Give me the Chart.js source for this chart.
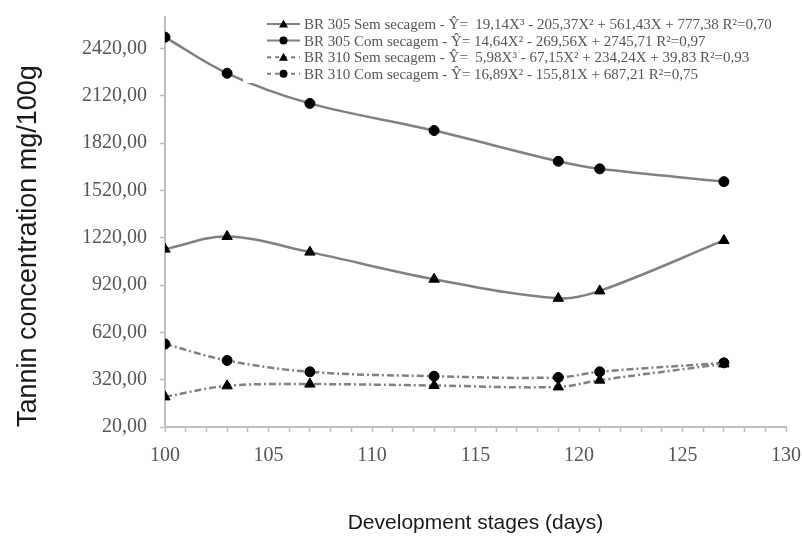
<!DOCTYPE html>
<html>
<head>
<meta charset="utf-8">
<script src="https://cdn.jsdelivr.net/npm/chart.js@4/dist/chart.umd.min.js"></script>
<style>
  html, body { margin: 0; padding: 0; background: #fff; }
  #wrap { width: 802px; height: 542px; position: relative; }
</style>
</head>
<body>
<div id="wrap"><canvas id="c"></canvas></div>
<script>
// ---- data ----
const days = [100, 103, 107, 113, 119, 121, 127];
const br305Sem = [1148, 1228, 1129, 957, 836, 883, 1203];
const br305Com = [2492, 2263, 2072, 1900, 1705, 1657, 1576];
const br310Sem = [211, 281, 292, 283, 274, 317, 420];
const br310Com = [546, 442, 370, 342, 334, 370, 427];

const seriesNames = [
  'BR 305 Sem secagem - \u0176=  19,14X\u00B3 - 205,37X\u00B2 + 561,43X + 777,38 R\u00B2=0,70',
  'BR 305 Com secagem - \u0176= 14,64X\u00B2 - 269,56X + 2745,71 R\u00B2=0,97',
  'BR 310 Sem secagem - \u0176=  5,98X\u00B3 - 67,15X\u00B2 + 234,24X + 39,83 R\u00B2=0,93',
  'BR 310 Com secagem - \u0176= 16,89X\u00B2 - 155,81X + 687,21 R\u00B2=0,75'
];
const xTickValues = [100, 105, 110, 115, 120, 125, 130];
const yTickValues = [20, 320, 620, 920, 1220, 1520, 1820, 2120, 2420];
const xTitle = 'Development stages (days)';
const yTitle = 'Tannin concentration mg/100g';

const toPts = (arr) => arr.map((v, i) => ({ x: days[i], y: v }));

const LINE = '#808080';
const dashDot = [7, 3, 2, 3];

function mkSeries(label, values, style, dashed) {
  return {
    label,
    data: toPts(values),
    borderColor: LINE,
    borderWidth: 2.5,
    borderDash: dashed ? dashDot : [],
    pointStyle: style,
    pointRadius: style === 'triangle' ? 6 : 5,
    pointBackgroundColor: '#000',
    pointBorderColor: '#000',
    pointBorderWidth: 1,
    tension: 0.35,
    fill: false
  };
}

const boxLegend = {
  id: 'boxLegend',
  afterDatasetsDraw(chart) {
    const ctx = chart.ctx;
    ctx.save();
    ctx.fillStyle = '#ffffff';
    ctx.fillRect(243, 13, 550, 70);
    chart.data.datasets.forEach((ds, i) => {
      const y = 24 + i * 16.6;
      ctx.strokeStyle = LINE;
      ctx.lineWidth = 2;
      ctx.setLineDash(ds.borderDash && ds.borderDash.length ? [4, 4] : []);
      ctx.beginPath();
      ctx.moveTo(267, y);
      ctx.lineTo(300, y);
      ctx.stroke();
      ctx.setLineDash([]);
      ctx.fillStyle = '#000';
      ctx.beginPath();
      if (ds.pointStyle === 'triangle') {
        ctx.moveTo(283.5, y - 4.5);
        ctx.lineTo(288, y + 3.5);
        ctx.lineTo(279, y + 3.5);
        ctx.closePath();
      } else {
        ctx.arc(283.5, y, 4, 0, Math.PI * 2);
      }
      ctx.fill();
      ctx.fillStyle = '#555';
      ctx.font = '15px "Liberation Serif", "Times New Roman", serif';
      ctx.textBaseline = 'middle';
      ctx.textAlign = 'left';
      ctx.fillText(ds.label, 304, y + 1);
    });
    ctx.restore();
  }
};

new Chart(document.getElementById('c'), {
  type: 'line',
  data: {
    datasets: [
      mkSeries(seriesNames[0], br305Sem, 'triangle', false),
      mkSeries(seriesNames[1], br305Com, 'circle', false),
      mkSeries(seriesNames[2], br310Sem, 'triangle', true),
      mkSeries(seriesNames[3], br310Com, 'circle', true)
    ]
  },
  options: {
    responsive: true,
    maintainAspectRatio: false,
    animation: false,
    devicePixelRatio: 1,
    layout: { padding: { top: 17, right: 16, left: 0, bottom: 0 } },
    plugins: {
      legend: { display: false },
      tooltip: { enabled: false }
    },
    scales: {
      x: {
        type: 'linear',
        min: 100,
        max: 130,
        afterBuildTicks(scale) {
          const t = [];
          for (let v = xTickValues[0]; v <= xTickValues[xTickValues.length - 1]; v += 1) t.push({ value: v });
          scale.ticks = t;
        },
        afterFit(scale) {
          scale.height = 115;
          scale.paddingRight = 0;
          scale.paddingLeft = 0;
        },
        ticks: {
          autoSkip: false,
          maxRotation: 0,
          padding: 12,
          color: '#555',
          font: { family: '"Liberation Serif", "Times New Roman", serif', size: 20 },
          callback: (v) => xTickValues.includes(v) ? String(v) : ''
        },
        grid: {
          drawOnChartArea: false,
          drawTicks: true,
          tickLength: 5,
          tickColor: '#bfbfbf',
          tickWidth: 1.5
        },
        border: { color: '#bfbfbf', width: 2 },
        title: {
          display: true,
          text: xTitle,
          color: '#1a1a1a',
          font: { family: '"Liberation Sans", Arial, sans-serif', size: 21 },
          padding: { top: 0, bottom: 6 }
        }
      },
      y: {
        type: 'linear',
        min: 20,
        max: 2620,
        afterBuildTicks(scale) {
          scale.ticks = yTickValues.map(v => ({ value: v }));
        },
        afterFit(scale) {
          scale.width = 165;
          scale.paddingTop = 0;
          scale.paddingBottom = 0;
        },
        ticks: {
          padding: 13,
          color: '#555',
          font: { family: '"Liberation Serif", "Times New Roman", serif', size: 20 },
          callback: (v) => Number(v).toFixed(2).replace('.', ',')
        },
        grid: {
          drawOnChartArea: false,
          drawTicks: true,
          tickLength: 5,
          tickColor: '#bfbfbf',
          tickWidth: 1.5
        },
        border: { color: '#bfbfbf', width: 2 },
        title: {
          display: true,
          text: yTitle,
          align: 'start',
          color: '#1a1a1a',
          font: { family: '"Liberation Sans", Arial, sans-serif', size: 27 },
          padding: { top: 12, bottom: 0 }
        }
      }
    }
  },
  plugins: [boxLegend]
});
</script>
</body>
</html>
